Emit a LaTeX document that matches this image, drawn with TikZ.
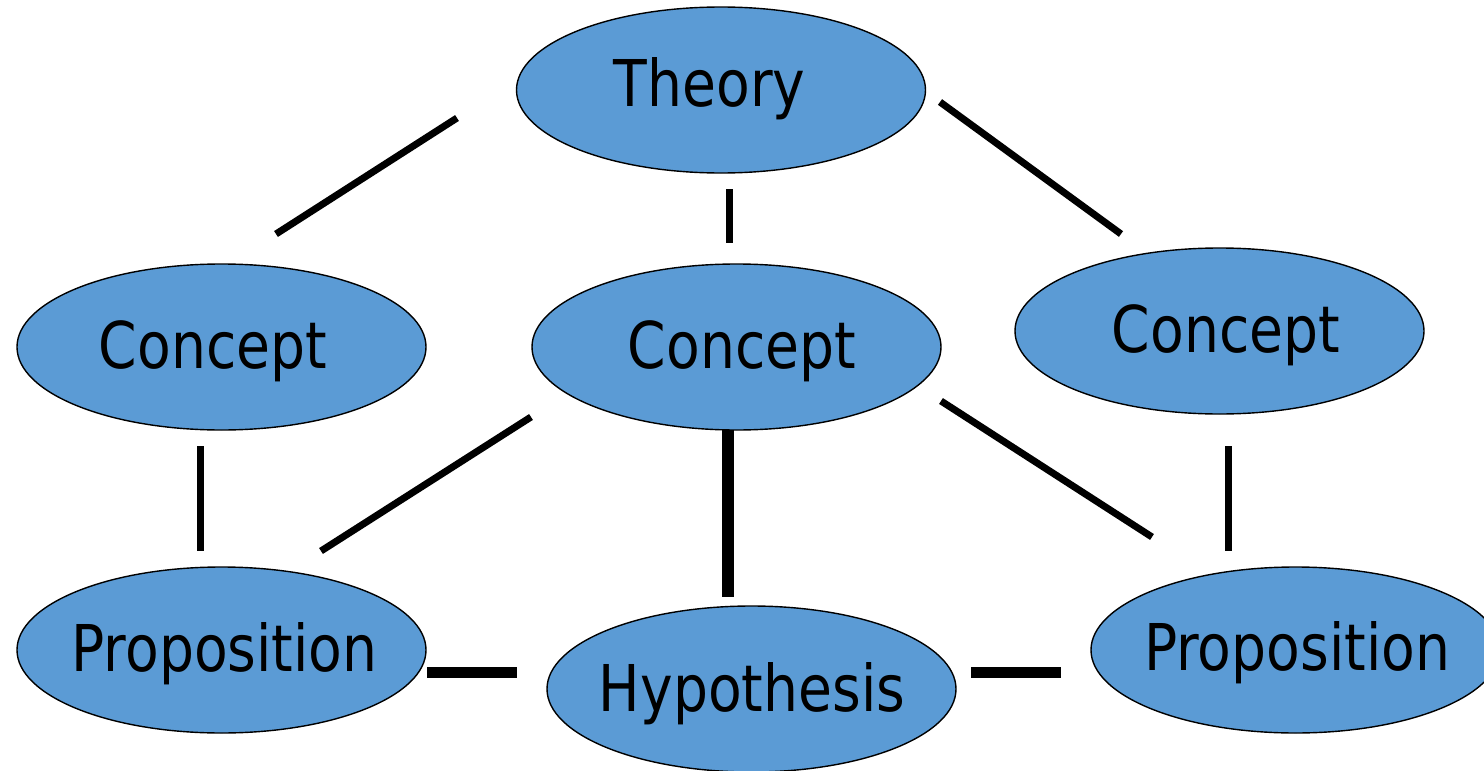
\documentclass[tikz,border=0pt]{standalone}
\usepackage{fontspec}
\setmainfont[FakeStretch=0.855]{DejaVu Sans}
\usetikzlibrary{shapes.geometric}
\definecolor{ovalblue}{HTML}{5B9BD5}
\tikzset{
  oval/.style={ellipse, draw=black, line width=1.4pt, fill=ovalblue,
    minimum width=409pt, minimum height=166pt, inner sep=0pt},
  lbl/.style={anchor=base, inner sep=0pt, font=\fontsize{64.5pt}{70pt}\selectfont},
  thinbar/.style={line width=7pt, line cap=butt},
  thickbar/.style={line width=11.5pt, line cap=butt}
}
\begin{document}
\begin{tikzpicture}[x=1pt,y=-1pt]
\useasboundingbox (0,0) rectangle (1484,771);
% ovals
\node[oval] (theory) at (721,90) {};
\node[oval] (conL) at (221.5,347) {};
\node[oval] (conM) at (736.5,347) {};
\node[oval] (conR) at (1219.5,331) {};
\node[oval] (propL) at (221.5,650) {};
\node[oval] (hyp) at (751.5,689) {};
\node[oval] (propR) at (1295.5,650) {};
% labels
\node[lbl] (theoryT) at (709.5,106) {Theory};
\node[lbl] (conLT) at (213,368) {Concept};
\node[lbl] (conMT) at (742,368) {Concept};
\node[lbl] (conRT) at (1226,352) {Concept};
\node[lbl] (propLT) at (224.5,671) {Proposition};
\node[lbl] (hypT) at (752,711) {Hypothesis};
\node[lbl] (propRT) at (1297,670) {Proposition};
% line end points
\coordinate (a1) at (457,118); \coordinate (a2) at (276,234);
\coordinate (b1) at (729,189); \coordinate (b2) at (729,243);
\coordinate (c1) at (940,102); \coordinate (c2) at (1121,234);
\coordinate (d1) at (200,446); \coordinate (d2) at (200,551);
\coordinate (e1) at (531,417); \coordinate (e2) at (321,551);
\coordinate (f1) at (728,430); \coordinate (f2) at (728,597);
\coordinate (g1) at (941,401); \coordinate (g2) at (1152,537);
\coordinate (h1) at (1228,446); \coordinate (h2) at (1228,551);
\coordinate (i1) at (427,672.5); \coordinate (i2) at (517,672.5);
\coordinate (j1) at (971,672.5); \coordinate (j2) at (1061,672.5);
% connectors
\draw[thinbar] (a1) -- (a2);
\draw[thinbar] (b1) -- (b2);
\draw[thinbar] (c1) -- (c2);
\draw[thinbar] (d1) -- (d2);
\draw[thinbar] (e1) -- (e2);
\draw[thickbar] (f1) -- (f2);
\draw[thinbar] (g1) -- (g2);
\draw[thinbar] (h1) -- (h2);
\draw[thickbar] (i1) -- (i2);
\draw[thickbar] (j1) -- (j2);
\end{tikzpicture}
\end{document}
